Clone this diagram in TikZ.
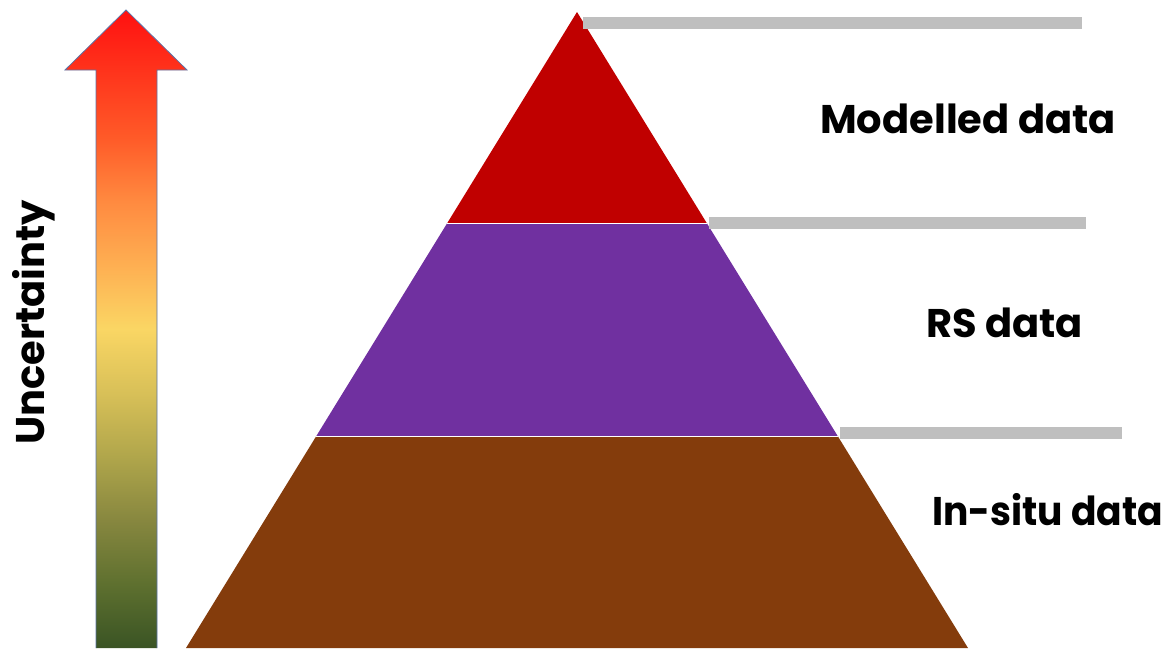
\documentclass[tikz,border=0pt]{standalone}
\usepackage{fontspec}
\setmainfont{Poppins}
\usetikzlibrary{positioning, calc}
\definecolor{topred}{HTML}{C00000}
\definecolor{midpurple}{HTML}{7030A0}
\definecolor{lowbrown}{HTML}{843C0C}
\definecolor{bargray}{HTML}{BFBFBF}
\definecolor{arrowedge}{HTML}{5B74A8}
\definecolor{ushade0}{HTML}{3A5424}
\definecolor{ushade1}{HTML}{5E702F}
\definecolor{ushade2}{HTML}{87873F}
\definecolor{ushade3}{HTML}{B0A64B}
\definecolor{ushade4}{HTML}{D8C058}
\definecolor{ushade5}{HTML}{FAD664}
\definecolor{ushade6}{HTML}{FEAF52}
\definecolor{ushade7}{HTML}{FF8A40}
\definecolor{ushade8}{HTML}{FF5A28}
\definecolor{ushade9}{HTML}{FF1010}
\pgfdeclareverticalshading{uncertshade}{100bp}{%
  color(0bp)=(ushade0); color(25bp)=(ushade0); color(30bp)=(ushade1);
  color(35bp)=(ushade2); color(40bp)=(ushade3); color(45bp)=(ushade4);
  color(50bp)=(ushade5); color(55bp)=(ushade6); color(60bp)=(ushade7);
  color(65bp)=(ushade8); color(75bp)=(ushade9); color(100bp)=(ushade9)}

\begin{document}
\begin{tikzpicture}[x=1pt, y=-1pt,
    bar/.style={fill=bargray},
    lbl/.style={font=\fontsize{40}{44}\selectfont\bfseries, anchor=base west, inner sep=0pt}]
  \useasboundingbox (0,0) rectangle (1169,648);

  % pyramid corners
  \coordinate (apex) at (577,12);
  \coordinate (botL) at (186,648);
  \coordinate (botR) at (968,648);
  \coordinate (upL) at ($(apex)!0.3318!(botL)$);
  \coordinate (upR) at ($(apex)!0.3318!(botR)$);
  \coordinate (loL) at ($(apex)!0.6667!(botL)$);
  \coordinate (loR) at ($(apex)!0.6667!(botR)$);

  % layers
  \fill[lowbrown] (loL) -- (loR) -- (botR) -- (botL) -- cycle;
  \fill[midpurple] (upL) -- (upR) -- (loR) -- (loL) -- cycle;
  \fill[topred] (apex) -- (upR) -- (upL) -- cycle;
  \draw[white, line width=1pt] (upL) -- (upR) (loL) -- (loR);

  % grey bars
  \fill[bar] (583,17) rectangle (1082,29);
  \fill[bar] (709,217) rectangle (1086,229);
  \fill[bar] (840,427) rectangle (1122,439);

  % labels
  \node[lbl] (modlbl) at (820,133) {Modelled data};
  \node[lbl] (rslbl) at (926,337) {RS data};
  \node[lbl] (insitulbl) at (932,525) {\scalebox{0.94}[1]{In-situ data}};

  % uncertainty arrow
  \path[shading=uncertshade, draw=arrowedge, line width=0.8pt]
    (96,648) -- (96,70) -- (65,70) -- (126,10) -- (187,70) -- (157,70) -- (157,648);
  \node[lbl, rotate=90] (uncert) at (44,445) {Uncertainty};
\end{tikzpicture}
\end{document}
